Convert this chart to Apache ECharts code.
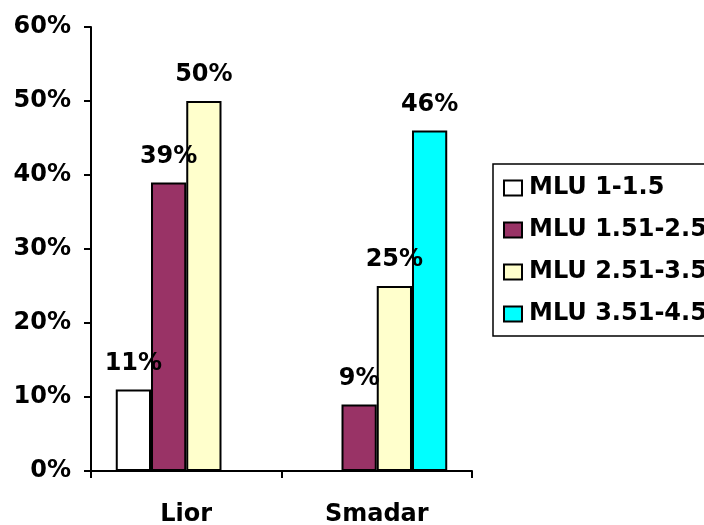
<!DOCTYPE html>
<html>
<head>
<meta charset="utf-8">
<script src="https://cdn.jsdelivr.net/npm/echarts@6/dist/echarts.min.js"></script>
<style>
  html, body { margin: 0; padding: 0; background: #fff; }
  #chart { width: 704px; height: 525px; }
</style>
</head>
<body>
<div id="chart"></div>
<script>
// 数据
const categories = ['Lior', 'Smadar'];
const seriesNames = ['MLU 1-1.5', 'MLU 1.51-2.5', 'MLU 2.51-3.5', 'MLU 3.51-4.5'];
const mlu1 = [11, null];
const mlu2 = [39, 9];
const mlu3 = [50, 25];
const mlu4 = [null, 46];
const seriesColors = ['#ffffff', '#993366', '#ffffcc', '#00ffff'];

const font = 'DejaVu Sans';
const chart = echarts.init(document.getElementById('chart'));

const makeSeries = (name, data, color) => ({
  name: name,
  type: 'bar',
  data: data,
  barGap: '0%',
  barCategoryGap: '26%',
  itemStyle: { color: color, borderColor: '#000', borderWidth: 2 },
  label: {
    show: true,
    position: 'top',
    distance: 14,
    formatter: '{c}%',
    color: '#000',
    fontFamily: font,
    fontWeight: 'bold',
    fontSize: 24
  }
});

const option = {
  animation: false,
  backgroundColor: '#fff',
  grid: { left: 91, right: 232, top: 27, bottom: 54, outerBoundsMode: 'none' },
  legend: {
    orient: 'vertical',
    left: 493,
    top: 164,
    padding: [12, 10, 10, 10],
    itemGap: 18,
    itemWidth: 18,
    itemHeight: 15,
    icon: 'rect',
    borderColor: '#000',
    borderWidth: 1.5,
    textStyle: { color: '#000', fontFamily: font, fontWeight: 'bold', fontSize: 24, padding: [0, 0, 0, 2] },
    itemStyle: { borderColor: '#000', borderWidth: 2 },
    data: seriesNames
  },
  xAxis: {
    type: 'category',
    data: categories,
    axisLine: { lineStyle: { color: '#000', width: 2 } },
    axisTick: { show: true, length: 7, lineStyle: { color: '#000', width: 2 } },
    axisLabel: { color: '#000', fontFamily: font, fontWeight: 'bold', fontSize: 24, margin: 32 }
  },
  yAxis: {
    type: 'value',
    min: 0,
    max: 60,
    interval: 10,
    splitLine: { show: false },
    axisLine: { show: true, lineStyle: { color: '#000', width: 2 } },
    axisTick: { show: true, length: 7, lineStyle: { color: '#000', width: 2 } },
    axisLabel: { color: '#000', fontFamily: font, fontWeight: 'bold', fontSize: 24, margin: 20, formatter: '{value}%' }
  },
  series: [
    makeSeries(seriesNames[0], mlu1, seriesColors[0]),
    makeSeries(seriesNames[1], mlu2, seriesColors[1]),
    makeSeries(seriesNames[2], mlu3, seriesColors[2]),
    makeSeries(seriesNames[3], mlu4, seriesColors[3])
  ]
};
chart.setOption(option);
</script>
</body>
</html>
